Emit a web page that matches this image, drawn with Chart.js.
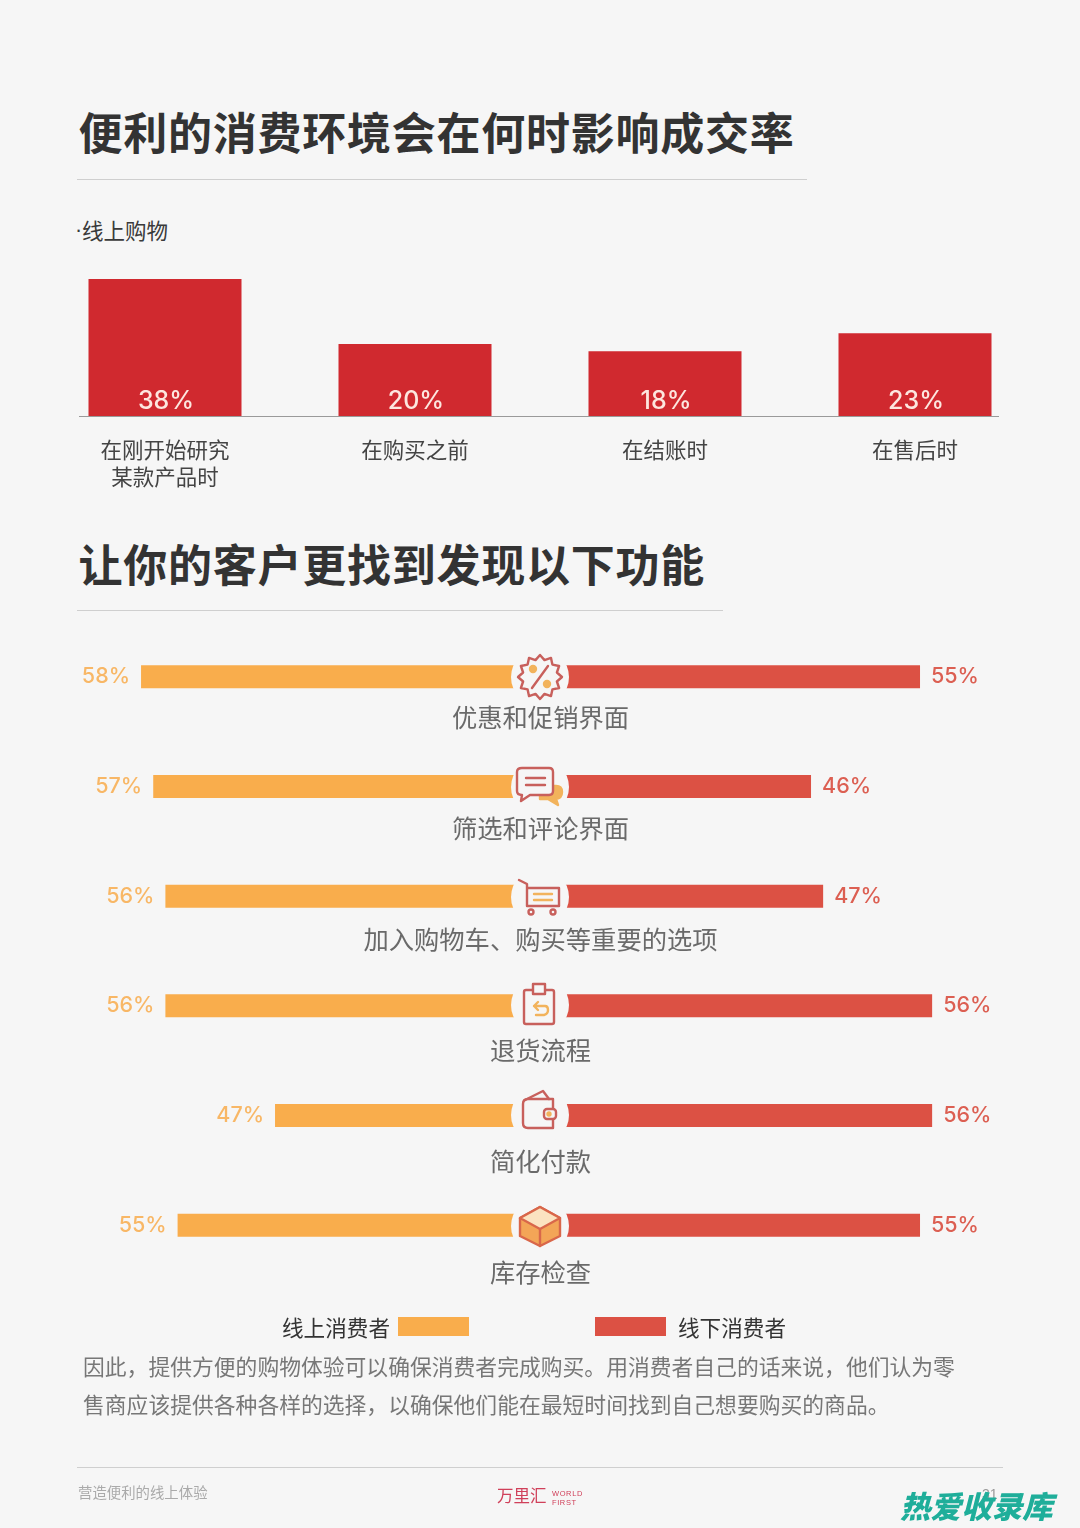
<!DOCTYPE html>
<html lang="zh">
<head>
<meta charset="utf-8">
<script src="https://cdn.jsdelivr.net/npm/chart.js@4"></script>
<style>
html,body{margin:0;padding:0;background:#f6f6f6;}
body{width:1080px;height:1528px;position:relative;overflow:hidden;font-family:"Noto Sans CJK SC","Noto Sans",sans-serif;}
.t{position:absolute;white-space:nowrap;line-height:1;}
.rule{position:absolute;height:1px;background:#cfcfcf;}
.title{font-size:44px;font-weight:700;color:#333;letter-spacing:.75px;left:78.5px;}
canvas{position:absolute;left:0;}
.box{position:absolute;width:71px;height:19px;top:1317px;}
svg{position:absolute;left:0;top:0;}
</style>
</head>
<body>
<div class="t title" style="top:109px">便利的消费环境会在何时影响成交率</div>
<div class="rule" style="left:77px;top:179px;width:730px"></div>
<div class="t" style="left:75px;top:220px;font-size:21.5px;color:#3a3a3a;font-family:'Liberation Sans'">·</div>
<div class="t" style="left:82px;top:219px;font-size:21.5px;color:#3a3a3a">线上购物</div>
<div style="position:absolute;left:0;top:260px;width:1080px;height:250px"><canvas id="top" style="top:0"></canvas></div>
<div class="rule" style="left:79px;top:416px;width:920px;background:#9a9a9a"></div>
<div class="t title" style="top:541px">让你的客户更找到发现以下功能</div>
<div class="rule" style="left:77px;top:610px;width:646px"></div>
<div style="position:absolute;left:0;top:622px;width:1080px;height:678px"><canvas id="main" style="top:0"></canvas></div>
<svg id="icons" width="1080" height="1528" viewBox="0 0 1080 1528"></svg>
<div class="t" style="left:282px;top:1316px;font-size:21.6px;color:#333">线上消费者</div>
<div class="box" style="left:398px;background:#f9ad4c"></div>
<div class="box" style="left:595px;background:#dc5144"></div>
<div class="t" style="left:678px;top:1316px;font-size:21.6px;color:#333">线下消费者</div>
<div class="t" style="left:83px;top:1355px;font-size:21.8px;color:#777">因此，提供方便的购物体验可以确保消费者完成购买。用消费者自己的话来说，他们认为零</div>
<div class="t" style="left:83px;top:1393px;font-size:21.8px;color:#777">售商应该提供各种各样的选择，以确保他们能在最短时间找到自己想要购买的商品。</div>
<div class="rule" style="left:77px;top:1467px;width:926px"></div>
<div class="t" style="left:78px;top:1485px;font-size:14.4px;color:#aaa">营造便利的线上体验</div>
<div class="t" style="left:497px;top:1487px;font-size:16.5px;color:#d0405a">万里汇</div>
<div class="t" style="left:552px;top:1489px;font-size:7.5px;letter-spacing:.6px;color:#d0405a;line-height:9px;font-family:'Liberation Sans'">WORLD<br>FIRST</div>
<div class="t" style="left:982px;top:1487px;font-size:14px;color:#999;font-family:'Liberation Sans'">31</div>
<div class="t" style="left:900px;top:1490px;font-size:30.6px;font-weight:900;font-style:italic;color:#1fae9a">热爱收录库</div>

<script>
// ---- data: top chart
const stageLabels = [["在刚开始研究","某款产品时"],"在购买之前","在结账时","在售后时"];
const stageValues = [38,20,18,23];
// ---- data: lower chart
const featureLabels = ["优惠和促销界面","筛选和评论界面","加入购物车、购买等重要的选项","退货流程","简化付款","库存检查"];
const onlineValues = [58,57,56,56,47,55];
const offlineValues = [55,46,47,56,56,55];
const onlineName = "线上消费者";
const offlineName = "线下消费者";

const RED="#d0292f", ORANGE="#f9ad4c", CORAL="#dc5144";
const CJK='"Noto Sans CJK SC"';
Chart.defaults.animation=false;
Chart.defaults.responsive=false;
Chart.defaults.devicePixelRatio=1;

const topLabels={id:"topLabels",afterDatasetsDraw(c){
  const g=c.ctx,m=c.getDatasetMeta(0),y=c.scales.y;
  g.save();g.font='500 25px Inter';g.fillStyle="#fde6df";g.textAlign="center";g.textBaseline="middle";
  m.data.forEach((b,i)=>g.fillText(stageValues[i]+"%",b.x+1,y.getPixelForValue(0)-15));
  g.restore();
}};
const cv1=document.getElementById("top");cv1.width=1080;cv1.height=250;
new Chart(cv1,{type:"bar",plugins:[topLabels],
 data:{labels:stageLabels,datasets:[{data:stageValues,backgroundColor:RED,barPercentage:.612,categoryPercentage:1}]},
 options:{layout:{padding:{left:40,right:40,top:0,bottom:0}},
  plugins:{legend:{display:false},tooltip:{enabled:false}},
  scales:{
   y:{display:false,min:0,max:43.3},
   x:{afterFit(s){s.height=94;},grid:{display:false},border:{display:false},
      ticks:{autoSkip:false,maxRotation:0,minRotation:0,padding:12,color:"#444",font:{family:CJK,size:21.5,lineHeight:1.26}}}
  }}});

const rowLabels={id:"rowLabels",afterDatasetsDraw(c){
  const g=c.ctx,xl=c.scales.xL,xr=c.scales.xR,y=c.scales.y;
  g.save();g.textBaseline="middle";
  featureLabels.forEach((t,i)=>{
    const py=y.getPixelForValue(i);
    g.font='500 21.5px Inter';
    g.fillStyle="#f8b766";g.textAlign="right";
    g.fillText(onlineValues[i]+"%",xl.getPixelForValue(onlineValues[i])-11,py);
    g.fillStyle="#dc5f52";g.textAlign="left";
    g.fillText(offlineValues[i]+"%",xr.getPixelForValue(offlineValues[i])+11,py);
    g.font='25.3px '+CJK;g.fillStyle="#6a6a6a";g.textAlign="center";
    g.fillText(t,540.5,py+41+i*1.3);
  });
  g.restore();
}};
const cv2=document.getElementById("main");cv2.width=1080;cv2.height=678;
new Chart(cv2,{type:"bar",plugins:[rowLabels],
 data:{labels:featureLabels,datasets:[
  {label:onlineName,data:onlineValues,xAxisID:"xL",base:27.21,backgroundColor:ORANGE,barPercentage:.21,categoryPercentage:1},
  {label:offlineName,data:offlineValues,xAxisID:"xR",base:25.6,backgroundColor:CORAL,barPercentage:.21,categoryPercentage:1}
 ]},
 options:{indexAxis:"y",grouped:false,layout:{padding:{left:0,right:0,top:0,bottom:20}},
  plugins:{legend:{display:false},tooltip:{enabled:false}},
  scales:{
   y:{display:false},
   xL:{display:false,reverse:true,min:-19.09,max:69.58},
   xR:{display:false,min:-20.97,max:68.21}
  }}});

// ---- decorative icons between the bars
const LINE="#c8605c",ACC="#f2b35c";
const centers=[677,787,897,1005,1115,1226];
let star="";for(let k=0;k<24;k++){const r=k%2?17.5:22,a=k*Math.PI/12;star+=(k?"L":"M")+(540+r*Math.sin(a)).toFixed(1)+" "+(677-r*Math.cos(a)).toFixed(1);}star+="Z";
const bg=centers.map(c=>`<circle cx="540" cy="${c}" r="29" fill="#f6f6f6"/>`).join("");
document.getElementById("icons").innerHTML=bg+`
<g fill="none" stroke="${LINE}" stroke-width="2.4" stroke-linejoin="round" stroke-linecap="round">
 <path d="${star}"/><path d="M532 688L548 666"/>
 <circle cx="533" cy="669" r="3" stroke="${ACC}" fill="${ACC}"/><circle cx="547" cy="684" r="3" stroke="${ACC}" fill="${ACC}"/>
 <path d="M540 786H556Q562 786 562 792Q562 798 556 799L558 805L548 799H540Z" fill="${ACC}" stroke="${ACC}"/>
 <path d="M522 768H549Q553 768 553 772V791Q553 795 549 795H530L521 801L522 795Q517 795 517 791V772Q517 768 522 768Z" fill="#f6f6f6"/>
 <path d="M526 778H545M526 785H545"/>
 <path d="M519 880L527 884V906H559V888H527"/><path d="M534 894H552M534 900H552" stroke="${ACC}"/>
 <circle cx="531" cy="912" r="2.5"/><circle cx="553" cy="912" r="2.5"/>
 <rect x="524" y="990" width="30" height="34" rx="2"/><rect x="533" y="984" width="12" height="10" fill="#f6f6f6"/>
 <path d="M534 1006H545Q548 1006 548 1010T544 1015H536M534 1006L538 1002M534 1006L538 1010" stroke="${ACC}"/>
 <path d="M523 1104Q523 1099 528 1099H553V1128H528Q523 1128 523 1123Z"/><path d="M525 1100L543 1091L549 1099"/>
 <rect x="544" y="1109" width="12" height="10" rx="3" fill="#f6f6f6"/><circle cx="549" cy="1114" r="1.5" stroke="${ACC}" fill="${ACC}"/>
 <path d="M540 1207L560 1218V1236L540 1246L520 1236V1218Z" fill="#f3a557" stroke="#d9674a"/>
 <path d="M540 1207L560 1218L540 1229L520 1218Z" fill="#fbe3c0" stroke="#d9674a"/><path d="M540 1229V1246" stroke="#d9674a"/>
</g>`;
</script>
</body>
</html>
